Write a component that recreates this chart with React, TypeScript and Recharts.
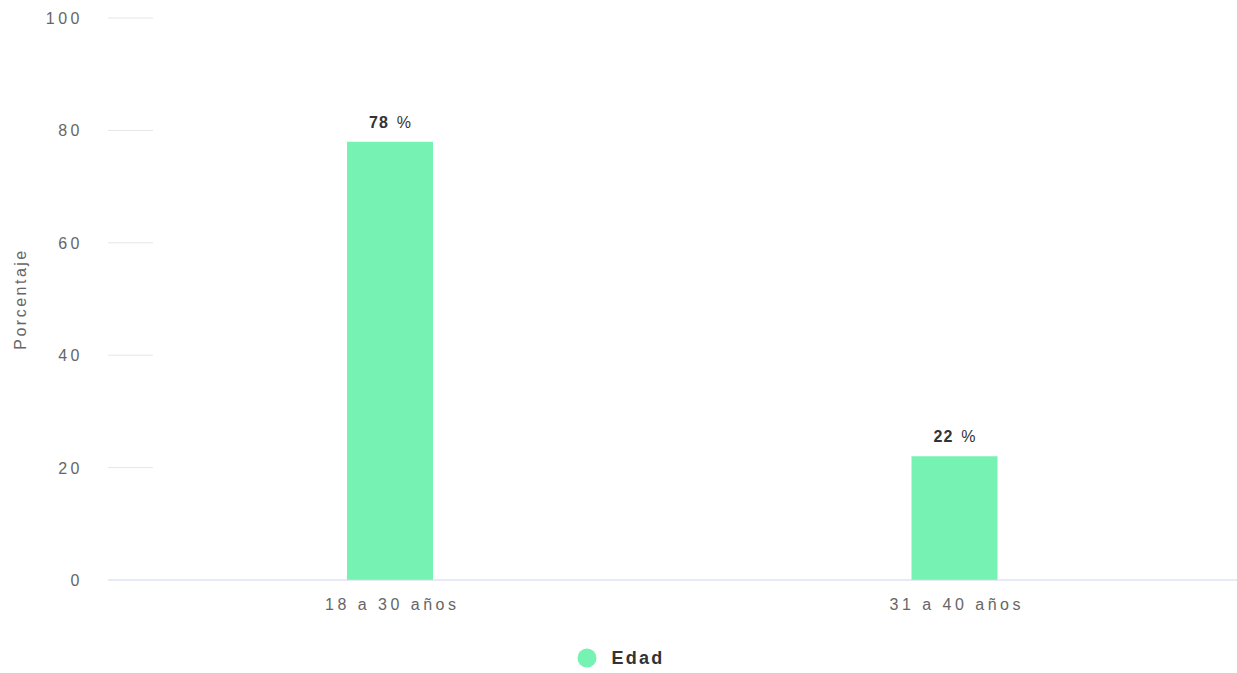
import React from 'react';
import { BarChart, Bar, XAxis, YAxis, Legend, LabelList } from 'recharts';

const categories = ['18 a 30 años', '31 a 40 años'];
const edadValues = [78, 22];
const yTicks = [0, 20, 40, 60, 80, 100];
const seriesName = 'Edad';
const yAxisLabel = 'Porcentaje';

const data = categories.map((c, i) => ({ name: c, edad: edadValues[i] }));

const FONT = '"Liberation Sans", Arial, sans-serif';
const GREEN = '#76f2b2';

const YTick = (props: any) => {
  const { y, payload } = props;
  return (
    <g>
      <text x={83} y={y} dy={6} textAnchor="end" fill="#666" fontSize={16} fontFamily={FONT} letterSpacing={3.5}>
        {payload.value}
      </text>
      {payload.value !== 0 && (
        <line x1={108} x2={153} y1={y} y2={y} stroke="#e6e6e6" strokeWidth={1} />
      )}
    </g>
  );
};

const XTick = (props: any) => {
  const { x, y, payload } = props;
  return (
    <text x={x + 2} y={y} dy={22} textAnchor="middle" fill="#666" fontSize={16} fontFamily={FONT} letterSpacing={3.5}>
      {payload.value}
    </text>
  );
};

const ValueLabel = (props: any) => {
  const { x, y, width, value } = props;
  return (
    <text x={x + width / 2} y={y - 14} textAnchor="middle" fill="#333" fontSize={16} fontFamily={FONT}>
      <tspan fontWeight="bold" letterSpacing={1}>{value}</tspan>
      <tspan dx={8}>%</tspan>
    </text>
  );
};

const LegendContent = () => (
  <div style={{ display: 'flex', justifyContent: 'center', alignItems: 'center', height: 30, fontFamily: FONT, paddingLeft: 4 }}>
    <svg width={20} height={20} style={{ marginRight: 15 }}>
      <circle cx={10} cy={10} r={9.5} fill={GREEN} />
    </svg>
    <span style={{ fontWeight: 'bold', fontSize: 18, color: '#333', letterSpacing: 2.2 }}>{seriesName}</span>
  </div>
);

export default function App() {
  return (
    <div style={{ position: 'absolute', left: 0, top: 0, width: 1237, height: 673, background: '#fff' }}>
      <BarChart width={1237} height={673} data={data} margin={{ top: 18, right: 0, left: 0, bottom: 0 }} barCategoryGap="0%">
        <YAxis
          domain={[0, 100]}
          ticks={yTicks}
          width={108}
          axisLine={false}
          tickLine={false}
          tick={<YTick />}
          label={{ value: yAxisLabel, angle: -90, position: 'insideLeft', offset: 20, style: { fill: '#666', fontSize: 16, fontFamily: FONT, letterSpacing: 2.5, textAnchor: 'middle' } }}
        />
        <XAxis
          dataKey="name"
          height={63}
          axisLine={{ stroke: '#ccd6eb', strokeWidth: 1 }}
          tickLine={false}
          tick={<XTick />}
          interval={0}
        />
        <Legend verticalAlign="bottom" height={30} content={<LegendContent />} />
        <Bar dataKey="edad" name={seriesName} fill={GREEN} barSize={86} isAnimationActive={false}>
          <LabelList dataKey="edad" content={<ValueLabel />} />
        </Bar>
      </BarChart>
    </div>
  );
}
